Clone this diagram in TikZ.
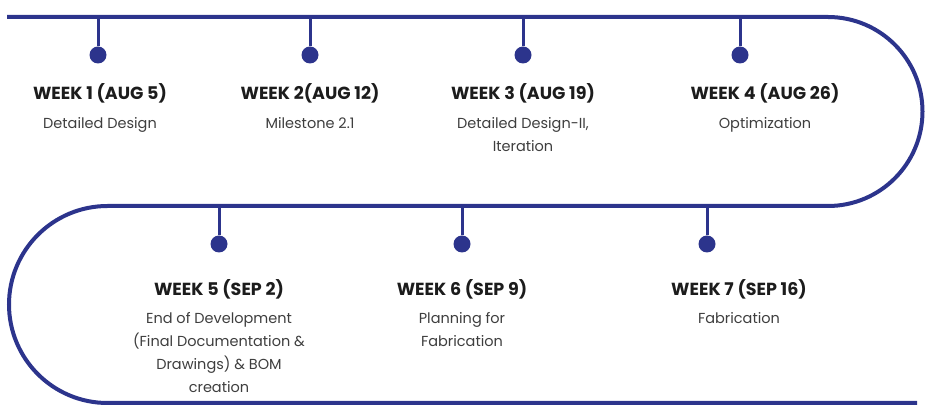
\documentclass[tikz,border=0pt]{standalone}
\usepackage{fontspec}
\setmainfont{Poppins}
\usetikzlibrary{positioning}
\definecolor{tlblue}{RGB}{44,52,140}
\definecolor{tltext}{RGB}{28,28,28}
\begin{document}
\begin{tikzpicture}[
  x=1pt, y=1pt,
  track/.style={draw=tlblue, line width=4pt},
  stem/.style={draw=tlblue, line width=3pt},
  dot/.style={circle, fill=tlblue, inner sep=0pt, minimum size=17pt},
  title/.style={font=\bfseries\fontsize{17.5}{20}\selectfont, text=tltext, inner sep=0pt},
  task/.style={font=\fontsize{14.5}{23}\selectfont, text=tltext!85, align=center, inner sep=0pt},
  node distance=38pt
]
\useasboundingbox (0,0) rectangle (927,412);
\coordinate (track_top) at (7,395);
\coordinate (track_mid) at (828,206);
\coordinate (track_end) at (917,9);
\draw[track] (track_top) -- (828,395) arc[start angle=90, end angle=-90, radius=94.5]
  -- (107.5,206) arc[start angle=90, end angle=270, radius=98.5] -- (track_end);

\node[dot] (w1_dot) at (98,357) {};
\node[dot, right of=w1_dot, node distance=212pt] (w2_dot) {};
\node[dot, right of=w2_dot, node distance=213pt] (w3_dot) {};
\node[dot, right of=w3_dot, node distance=217pt] (w4_dot) {};
\node[dot] (w5_dot) at (219,168) {};
\node[dot, right of=w5_dot, node distance=243pt] (w6_dot) {};
\node[dot, right of=w6_dot, node distance=245pt] (w7_dot) {};

\node[title, below of=w1_dot, xshift=2pt] (w1_title) {WEEK 1 (AUG 5)};
\node[title, below of=w2_dot] (w2_title) {WEEK 2(AUG 12)};
\node[title, below of=w3_dot] (w3_title) {WEEK 3 (AUG 19)};
\node[title, below of=w4_dot, xshift=25pt] (w4_title) {WEEK 4 (AUG 26)};
\node[title, below of=w5_dot, node distance=45pt] (w5_title) {WEEK 5 (SEP 2)};
\node[title, below of=w6_dot, node distance=45pt] (w6_title) {WEEK 6 (SEP 9)};
\node[title, below of=w7_dot, node distance=45pt, xshift=32pt] (w7_title) {WEEK 7 (SEP 16)};

\node[task, below=14pt of w1_title] (w1_task) {Detailed Design};
\node[task, below=14pt of w2_title] (w2_task) {Milestone 2.1};
\node[task, below=14pt of w3_title] (w3_task) {Detailed Design-II,\\Iteration};
\node[task, below=14pt of w4_title] (w4_task) {Optimization};
\node[task, below=13pt of w5_title] (w5_task) {End of Development\\(Final Documentation \&\\Drawings) \& BOM\\creation};
\node[task, below=13pt of w6_title] (w6_task) {Planning for\\Fabrication};
\node[task, below=13pt of w7_title] (w7_task) {Fabrication};

\draw[stem] (w1_dot) -- (w1_dot |- track_top);
\draw[stem] (w2_dot) -- (w2_dot |- track_top);
\draw[stem] (w3_dot) -- (w3_dot |- track_top);
\draw[stem] (w4_dot) -- (w4_dot |- track_top);
\draw[stem] (w5_dot) -- (w5_dot |- track_mid);
\draw[stem] (w6_dot) -- (w6_dot |- track_mid);
\draw[stem] (w7_dot) -- (w7_dot |- track_mid);
\end{tikzpicture}
\end{document}
